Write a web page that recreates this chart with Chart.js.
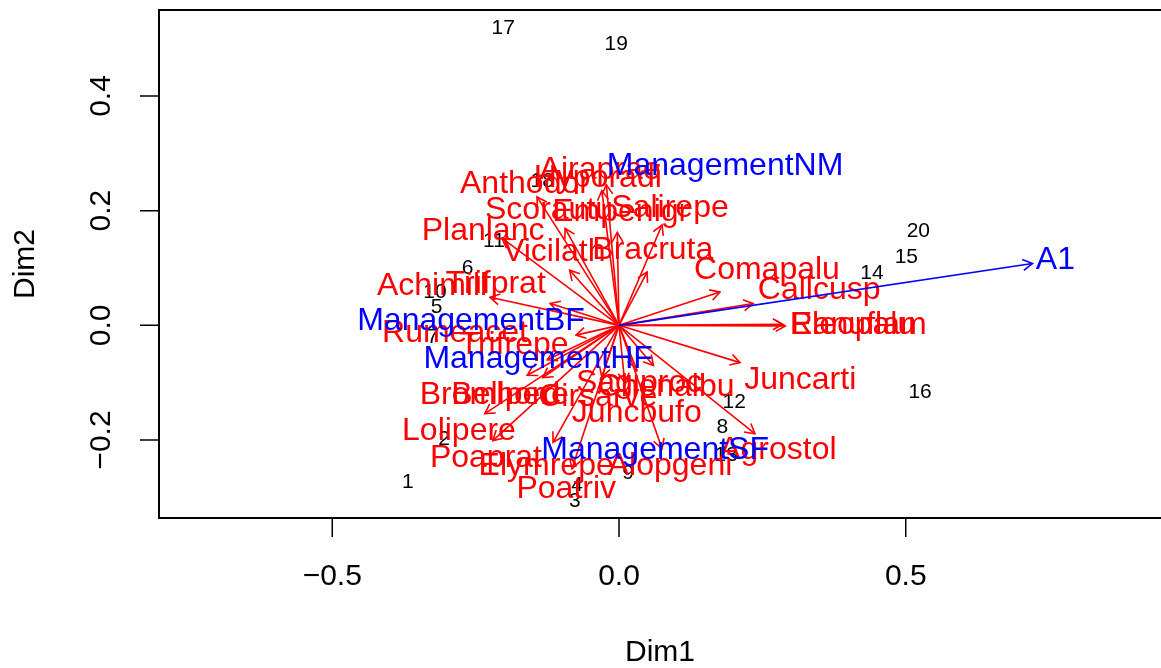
<!DOCTYPE html>
<html>
<head>
<meta charset="utf-8">
<script src="https://cdn.jsdelivr.net/npm/chart.js@4.4.1/dist/chart.umd.min.js"></script>
<style>
  html, body { margin: 0; padding: 0; background: #fff; }
  #wrap { width: 1161px; height: 668px; }
</style>
</head>
<body>
<div id="wrap"><canvas id="biplot"></canvas></div>
<script>
// site scores (black numbers)
const siteNames = ['1','2','3','4','5','6','7','8','9','10','11','12','13','14','15','16','17','18','19','20'];
const siteX = [-0.368, -0.305, -0.077, -0.073, -0.318, -0.264, -0.325, 0.180, 0.016, -0.321,
               -0.218, 0.201, 0.187, 0.441, 0.501, 0.525, -0.202, -0.134, -0.005, 0.522];
const siteY = [-0.273, -0.198, -0.306, -0.278, 0.031, 0.100, -0.021, -0.178, -0.258, 0.058,
               0.147, -0.134, -0.227, 0.091, 0.119, -0.117, 0.519, 0.252, 0.491, 0.164];

// species: arrow tips and label positions
const speciesNames = ['Achimill','Agrostol','Airaprae','Alopgeni','Anthodor','Bellpere','Bromhord',
  'Chenalbu','Cirsarve','Comapalu','Eleopalu','Elymrepe','Empenigr','Hyporadi','Juncarti','Juncbufo',
  'Lolipere','Planlanc','Poaprat','Poatriv','Ranuflam','Rumeacet','Sagiproc','Salirepe','Scorautu',
  'Trifprat','Trifrepe','Vicilath','Bracruta','Callcusp'];
const speciesX = [-0.225, 0.237, -0.022, 0.075, -0.143, -0.133, -0.160,
  0.060, -0.030, 0.176, 0.285, -0.115, -0.003, -0.030, 0.211, 0.010,
  -0.234, -0.204, -0.220, -0.082, 0.290, -0.075, 0.030, 0.075, -0.094,
  -0.120, -0.125, -0.086, 0.049, 0.234];
const speciesY = [0.049, -0.189, 0.245, -0.215, 0.224, -0.091, -0.087,
  -0.070, -0.090, 0.058, 0.002, -0.204, 0.162, 0.235, -0.065, -0.100,
  -0.154, 0.152, -0.201, -0.250, -0.001, -0.017, -0.075, 0.175, 0.169,
  0.038, -0.060, 0.096, 0.093, 0.038];
const speciesLabelX = [-0.326, 0.277, -0.033, 0.089, -0.164, -0.190, -0.225,
  0.082, -0.037, 0.258, 0.408, -0.127, 0.003, -0.037, 0.316, 0.031,
  -0.279, -0.237, -0.232, -0.092, 0.417, -0.286, 0.035, 0.089, -0.122,
  -0.215, -0.183, -0.113, 0.059, 0.349];
const speciesLabelY = [0.068, -0.217, 0.271, -0.245, 0.247, -0.122, -0.122,
  -0.107, -0.126, 0.096, 0.000, -0.245, 0.197, 0.257, -0.096, -0.154,
  -0.185, 0.164, -0.231, -0.285, 0.000, -0.014, -0.101, 0.204, 0.201,
  0.072, -0.035, 0.128, 0.131, 0.061];

// continuous variable (arrow) and factor centroids (text only)
const envNames = ['A1'];
const envX = [0.721];
const envY = [0.108];
const envLabelX = [0.761];
const envLabelY = [0.114];
const factorNames = ['ManagementBF', 'ManagementHF', 'ManagementNM', 'ManagementSF'];
const factorX = [-0.258, -0.141, 0.185, 0.063];
const factorY = [0.007, -0.059, 0.278, -0.217];

const xTicks = [-0.5, 0.0, 0.5];
const yTicks = [-0.2, 0.0, 0.2, 0.4];
const xTitle = 'Dim1';
const yTitle = 'Dim2';

const RED = '#ff0000';
const BLUE = '#0000ff';
const FONT = '"Liberation Sans", Arial, sans-serif';

// dataset 0 is drawn last, so the blue arrow goes first
const datasets = [];
envNames.forEach((n, i) => datasets.push({
  label: n, data: [{x: 0, y: 0}, {x: envX[i], y: envY[i]}],
  showLine: true, borderColor: BLUE, borderWidth: 1.6, pointRadius: 0
}));
speciesNames.forEach((n, i) => datasets.push({
  label: n, data: [{x: 0, y: 0}, {x: speciesX[i], y: speciesY[i]}],
  showLine: true, borderColor: RED, borderWidth: 1.6, pointRadius: 0
}));

function arrowHead(ctx, x0, y0, x1, y1, color) {
  const a = Math.atan2(y1 - y0, x1 - x0);
  const len = 11, spread = Math.PI / 6;
  ctx.save();
  ctx.strokeStyle = color;
  ctx.lineWidth = 1.6;
  ctx.beginPath();
  ctx.moveTo(x1 - len * Math.cos(a - spread), y1 - len * Math.sin(a - spread));
  ctx.lineTo(x1, y1);
  ctx.lineTo(x1 - len * Math.cos(a + spread), y1 - len * Math.sin(a + spread));
  ctx.stroke();
  ctx.restore();
}

function label(ctx, txt, px, py, color, size) {
  ctx.save();
  ctx.fillStyle = color;
  ctx.font = size + 'px ' + FONT;
  ctx.textAlign = 'center';
  ctx.textBaseline = 'middle';
  ctx.fillText(txt, px, py);
  ctx.restore();
}

const biplotPlugin = {
  id: 'biplot',
  beforeDatasetsDraw(chart) {
    const {ctx, scales: {x, y}} = chart;
    siteNames.forEach((n, i) =>
      label(ctx, n, x.getPixelForValue(siteX[i]), y.getPixelForValue(siteY[i]), '#000', 21));
  },
  afterDatasetDraw(chart, args) {
    // last red arrow has index 1; put heads and names on top of the shafts
    if (args.index !== 1) return;
    const {ctx, scales: {x, y}} = chart;
    const ox = x.getPixelForValue(0), oy = y.getPixelForValue(0);
    speciesNames.forEach((n, i) =>
      arrowHead(ctx, ox, oy, x.getPixelForValue(speciesX[i]), y.getPixelForValue(speciesY[i]), RED));
    speciesNames.forEach((n, i) =>
      label(ctx, n, x.getPixelForValue(speciesLabelX[i]), y.getPixelForValue(speciesLabelY[i]), RED, 32));
  },
  afterDatasetsDraw(chart) {
    const {ctx, chartArea: a, scales: {x, y}} = chart;
    const ox = x.getPixelForValue(0), oy = y.getPixelForValue(0);
    envNames.forEach((n, i) => {
      arrowHead(ctx, ox, oy, x.getPixelForValue(envX[i]), y.getPixelForValue(envY[i]), BLUE);
      label(ctx, n, x.getPixelForValue(envLabelX[i]), y.getPixelForValue(envLabelY[i]), BLUE, 32);
    });
    factorNames.forEach((n, i) =>
      label(ctx, n, x.getPixelForValue(factorX[i]), y.getPixelForValue(factorY[i]), BLUE, 32));

    // frame (the right edge runs off the canvas)
    ctx.save();
    ctx.strokeStyle = '#000';
    ctx.lineWidth = 2;
    ctx.beginPath();
    ctx.moveTo(a.right + 2, a.top);
    ctx.lineTo(a.left, a.top);
    ctx.lineTo(a.left, a.bottom);
    ctx.lineTo(a.right + 2, a.bottom);
    ctx.stroke();

    // ticks
    ctx.lineWidth = 1.5;
    ctx.beginPath();
    xTicks.forEach(v => {
      const px = x.getPixelForValue(v);
      ctx.moveTo(px, a.bottom);
      ctx.lineTo(px, a.bottom + 19);
    });
    yTicks.forEach(v => {
      const py = y.getPixelForValue(v);
      ctx.moveTo(a.left, py);
      ctx.lineTo(a.left - 19, py);
    });
    ctx.stroke();
    ctx.restore();

    xTicks.forEach(v =>
      label(ctx, v.toFixed(1).replace('-', '\u2212'), x.getPixelForValue(v), a.bottom + 59, '#000', 30));
    yTicks.forEach(v => {
      ctx.save();
      ctx.translate(a.left - 57, y.getPixelForValue(v));
      ctx.rotate(-Math.PI / 2);
      label(ctx, v.toFixed(1).replace('-', '\u2212'), 0, 0, '#000', 30);
      ctx.restore();
    });
    label(ctx, xTitle, (a.left + a.right) / 2, a.bottom + 135, '#000', 30);
    ctx.save();
    ctx.translate(26, (a.top + a.bottom) / 2);
    ctx.rotate(-Math.PI / 2);
    label(ctx, yTitle, 0, 0, '#000', 30);
    ctx.restore();
  }
};

new Chart(document.getElementById('biplot'), {
  type: 'scatter',
  data: { datasets: datasets },
  options: {
    responsive: true,
    maintainAspectRatio: false,
    animation: false,
    layout: { padding: { left: 159, top: 10, right: 0, bottom: 150 } },
    scales: {
      x: { type: 'linear', min: -0.8021, max: 0.9451, display: false },
      y: { type: 'linear', min: -0.336, max: 0.550, display: false }
    },
    plugins: {
      legend: { display: false },
      tooltip: { enabled: false }
    }
  },
  plugins: [biplotPlugin]
});
</script>
</body>
</html>
